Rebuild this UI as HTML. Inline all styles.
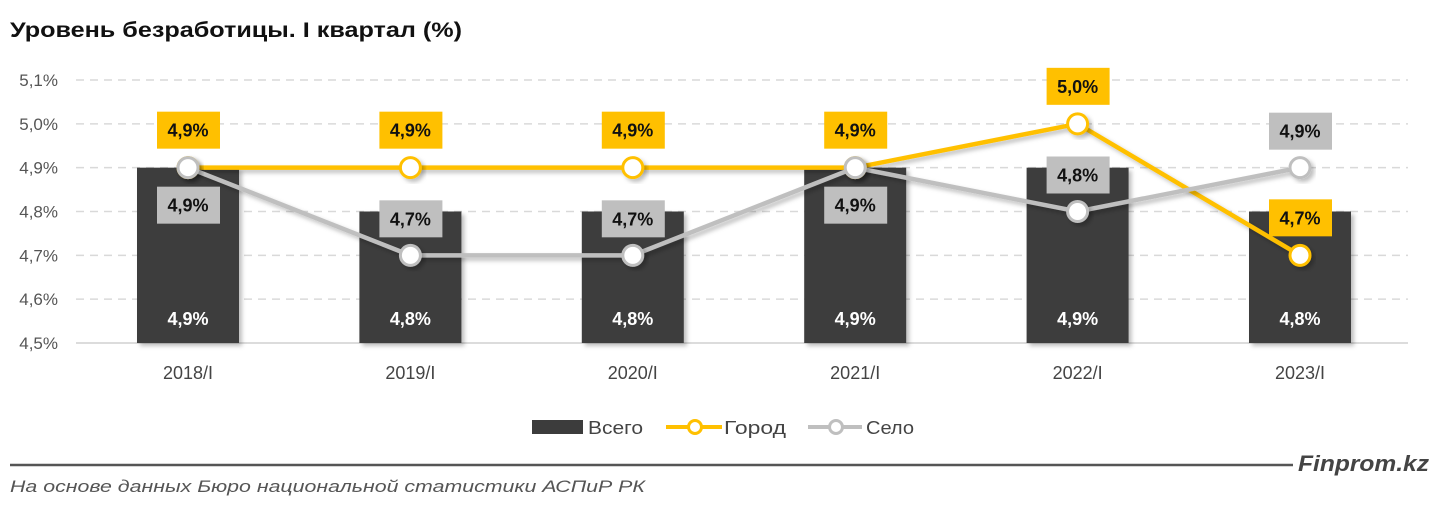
<!DOCTYPE html>
<html><head><meta charset="utf-8"><style>
body{margin:0;background:#fff;width:1440px;height:506px;overflow:hidden;font-family:"Liberation Sans",sans-serif}
svg text{font-family:"Liberation Sans",sans-serif}
</style></head><body>
<svg id="chart" width="1440" height="506" viewBox="0 0 1440 506" xmlns="http://www.w3.org/2000/svg">
<defs><filter id="sh" x="-20%" y="-20%" width="150%" height="150%"><feDropShadow dx="3" dy="3" stdDeviation="2" flood-color="#000" flood-opacity="0.25"/></filter></defs>
<text x="10" y="37" font-size="21" font-weight="bold" fill="#111" textLength="452" lengthAdjust="spacingAndGlyphs">Уровень безработицы. I квартал (%)</text>
<g id="grid"></g><g id="bars"></g><g id="lines"></g><g id="labels"></g>
<g>
<rect x="532" y="420" width="51" height="14" fill="#3c3c3c"/>
<text x="588" y="434" font-size="18" fill="#444" textLength="55" lengthAdjust="spacingAndGlyphs">Всего</text>
<line x1="666" y1="427" x2="722" y2="427" stroke="#ffc000" stroke-width="4"/>
<circle cx="695" cy="427" r="6.5" fill="#fff" stroke="#ffc000" stroke-width="3"/>
<text x="724" y="434" font-size="18" fill="#444" textLength="62" lengthAdjust="spacingAndGlyphs">Город</text>
<line x1="808" y1="427" x2="862" y2="427" stroke="#bfbfbf" stroke-width="4"/>
<circle cx="836" cy="427" r="6.5" fill="#fff" stroke="#bfbfbf" stroke-width="3"/>
<text x="866" y="434" font-size="18" fill="#444" textLength="48" lengthAdjust="spacingAndGlyphs">Село</text>
</g>
<line x1="10" y1="465" x2="1293" y2="465" stroke="#555" stroke-width="2.5"/>
<text x="1298" y="471" font-size="22" font-weight="bold" font-style="italic" fill="#444" textLength="131" lengthAdjust="spacingAndGlyphs">Finprom.kz</text>
<text x="10" y="492" font-size="17" font-style="italic" fill="#555" textLength="635" lengthAdjust="spacingAndGlyphs">На основе данных Бюро национальной статистики АСПиР РК</text>
</svg>
<script>
const categories=["2018/I","2019/I","2020/I","2021/I","2022/I","2023/I"];
const vsego=[4.9,4.8,4.8,4.9,4.9,4.8];
const gorod=[4.9,4.9,4.9,4.9,5.0,4.7];
const selo=[4.9,4.7,4.7,4.9,4.8,4.9];
const seloLabelBelow=[true,false,false,true,false,false];
const yTicks=[4.5,4.6,4.7,4.8,4.9,5.0,5.1];
const NS="http://www.w3.org/2000/svg";
const y=v=>343-(v-4.5)/0.6*263;
const x=i=>188+i*222.4;
const fmt=v=>v.toFixed(1).replace('.',',')+'%';
function mk(t,a,p){const e=document.createElementNS(NS,t);for(const k in a)e.setAttribute(k,a[k]);p.appendChild(e);return e;}
const grid=document.getElementById('grid'),bars=document.getElementById('bars'),lines=document.getElementById('lines'),labels=document.getElementById('labels');
yTicks.forEach((v,i)=>{
 const l=mk('line',{x1:76,x2:1408,y1:y(v),y2:y(v),stroke:i==0?'#d0d0d0':'#d9d9d9','stroke-width':1.5,'stroke-dasharray':i==0?'none':'8,6'},grid);
 
 
 const t=mk('text',{x:58,y:y(v)+6,'font-size':17,fill:'#555','text-anchor':'end'},grid);t.textContent=fmt(v);
 
 
});
categories.forEach((c,i)=>{
 const r=mk('rect',{x:x(i)-51,y:y(vsego[i]),width:102,height:343-y(vsego[i]),fill:'#3c3c3c',filter:'url(#sh)'},bars);
 
 
 const t=mk('text',{x:x(i),y:325,'font-size':18,'font-weight':'bold',fill:'#fff','text-anchor':'middle'},labels);t.textContent=fmt(vsego[i]);
 
 
 const xl=mk('text',{x:x(i),y:379,'font-size':18,fill:'#444','text-anchor':'middle'},labels);xl.textContent=c;
 
 
});
function series(vals,color,name){
 const p=mk('polyline',{points:vals.map((v,i)=>x(i)+','+y(v)).join(' '),fill:'none',stroke:color,'stroke-width':4.5,filter:'url(#sh)'},lines);
 
 
 vals.forEach((v,i)=>{const c=mk('circle',{cx:x(i),cy:y(v),r:10,fill:'#fff',stroke:color,'stroke-width':3,filter:'url(#sh)'},lines);
 
 });
}
series(gorod,'#ffc000','gorod');
series(selo,'#bfbfbf','selo');
function lab(cx,top,v,bg,name){
 const g=mk('g',{},labels);
 
 
 mk('rect',{x:cx-31,y:top,width:63,height:37,fill:bg},g);
 const t=mk('text',{x:cx,y:top+25,'font-size':18,'font-weight':'bold',fill:'#111','text-anchor':'middle'},g);t.textContent=fmt(v);
}
gorod.forEach((v,i)=>lab(x(i),y(v)-56,v,'#ffc000','gorod-value-label'));
selo.forEach((v,i)=>lab(x(i),seloLabelBelow[i]?y(v)+19:y(v)-55,v,'#bfbfbf','selo-value-label'));
</script>
</body></html>
